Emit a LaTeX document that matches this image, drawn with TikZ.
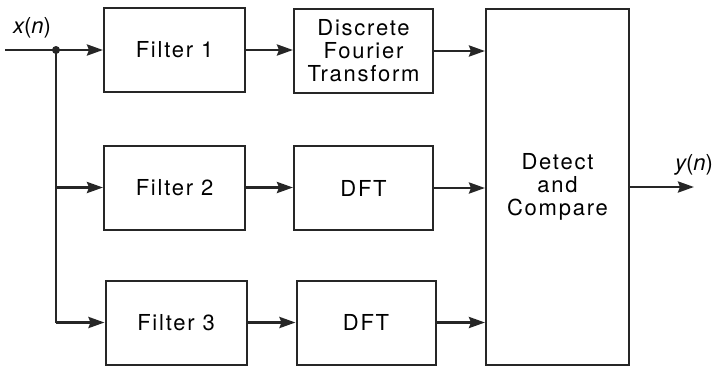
\documentclass[tikz,border=0pt]{standalone}
\usepackage{fontspec}
\setmainfont{TeX Gyre Heros}[LetterSpace=8]
\usetikzlibrary{arrows.meta}
\begin{document}
\begin{tikzpicture}[x=1pt,y=-1pt,
  blk/.style={draw=black!85,line width=2pt,minimum height=84pt,inner sep=0pt,align=center,font=\fontsize{22}{27}\selectfont},
  flt/.style={blk,minimum width=141pt},
  dft/.style={blk,minimum width=139pt},
  arr/.style={line width=2.8pt,draw=black!85,-{Stealth[length=16pt,width=11pt,inset=2pt]}},
  lbl/.style={font=\fontsize{22}{27}\selectfont,inner sep=0pt}
]
\useasboundingbox (0,0) rectangle (717,368);
\node[flt] (f1) at (174.5,50) {Filter 1};
\node[flt] (f2) at (174.5,187.5) {Filter 2};
\node[flt] (f3) at (176,322.5) {Filter 3};
\node[dft] (d1) at (363.5,51) {Discrete\\[-4pt]Fourier\\[-4pt]Transform};
\node[dft] (d2) at (363.5,188) {DFT};
\node[dft] (d3) at (366,322.5) {DFT};
\node[blk,minimum width=143pt,minimum height=356pt] (dc) at (557.5,186.5) {Detect\\[-4pt]and\\[-4pt]Compare};
\coordinate (in) at (5,50);
\coordinate (j) at (56,50);
\coordinate (out) at (694,187);
\node[lbl] (xn) at (32,28) {\itshape x\upshape(\itshape n\upshape)};
\node[lbl] (yn) at (694,165) {\itshape y\upshape(\itshape n\upshape)};
\draw[arr] (in) -- (f1.west);
\fill[black!85] (j) circle (4pt);
\draw[line width=2.8pt,draw=black!85] (j) -- (j |- f3.west);
\draw[arr] (j |- f2.west) -- (f2.west);
\draw[arr] (j |- f3.west) -- (f3.west);
\draw[arr] (f1.east) -- (d1.west |- f1.east);
\draw[arr] (f2.east) -- (d2.west |- f2.east);
\draw[arr] (f3.east) -- (d3.west |- f3.east);
\draw[arr] (d1.east) -- (dc.west |- d1.east);
\draw[arr] (d2.east) -- (dc.west |- d2.east);
\draw[arr] (d3.east) -- (dc.west |- d3.east);
\draw[arr] (dc.east |- out) -- (out);
\end{tikzpicture}
\end{document}
